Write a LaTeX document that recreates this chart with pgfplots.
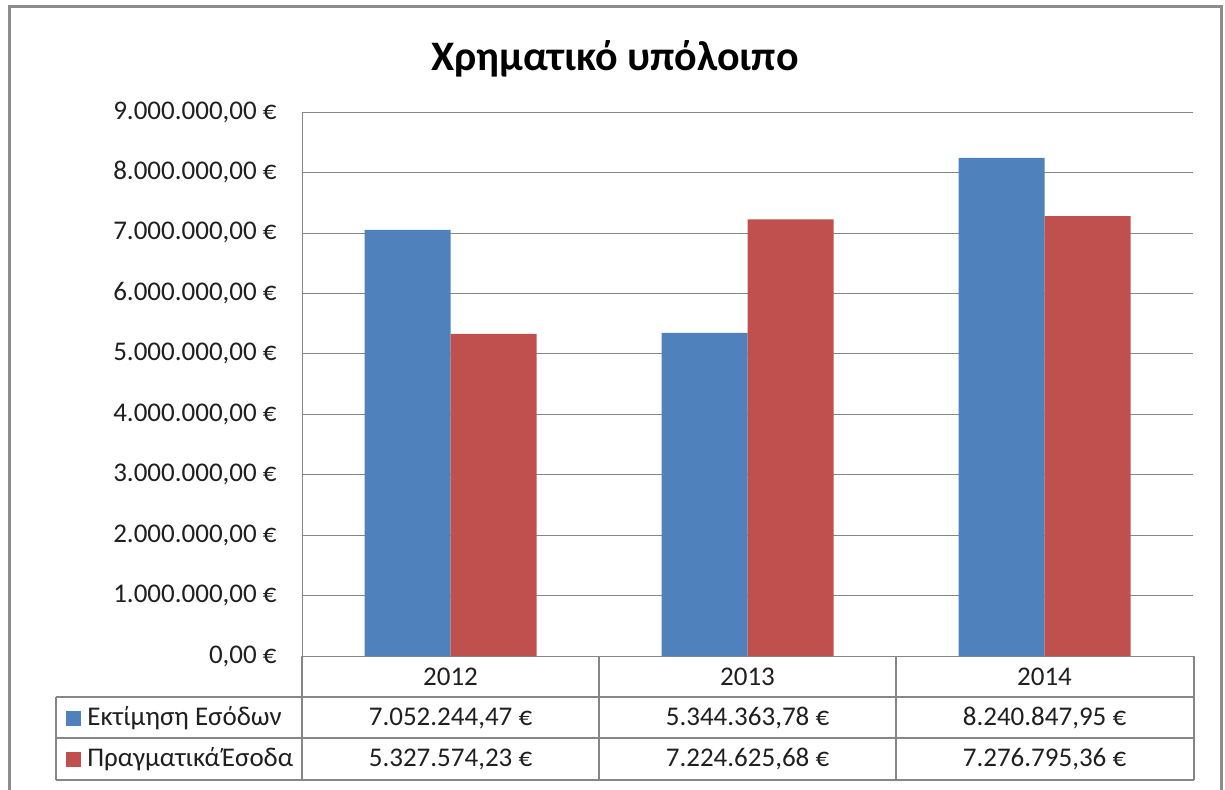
\documentclass[border=0pt]{standalone}
\usepackage{fontspec}
\setmainfont{Carlito}
\usepackage{pgfplots}
\pgfplotsset{compat=1.18}
\definecolor{barblue}{HTML}{4F81BD}
\definecolor{barred}{HTML}{C0504D}
\definecolor{gridgray}{RGB}{134,134,134}
\definecolor{framegray}{RGB}{140,140,140}
\newcommand{\tabfont}{\fontsize{13.5}{16}\selectfont}
\begin{document}
\begin{tikzpicture}
% pixel grid of the reference: 1 px = 0.5pt, y downwards
\begin{scope}[x=0.5pt,y=-0.5pt]
\useasboundingbox (0,0) rectangle (1225,789);
\draw[framegray, line width=1.5pt] (9,800) -- (9,6) -- (1221,6) -- (1221,800);
\node[anchor=base, font=\fontsize{21}{25}\selectfont\bfseries] at (615,70) {Χρηματικό υπόλοιπο};
\end{scope}

\begin{axis}[
  at={(151pt,-328pt)}, anchor=south west,
  scale only axis, width=445.5pt, height=272pt,
  xmin=-0.5, xmax=2.5, ymin=0, ymax=9e6,
  ybar=0pt, bar width=43pt,
  axis x line*=bottom, axis y line*=left,
  axis line style={gridgray},
  ymajorgrids, grid style={gridgray},
  major tick length=0pt,
  scaled y ticks=false,
  ytick={0,1000000,2000000,3000000,4000000,5000000,6000000,7000000,8000000,9000000},
  yticklabels={{0,00 €},{1.000.000,00 €},{2.000.000,00 €},{3.000.000,00 €},{4.000.000,00 €},{5.000.000,00 €},{6.000.000,00 €},{7.000.000,00 €},{8.000.000,00 €},{9.000.000,00 €}},
  xtick={0,1,2},
  xticklabels={2012,2013,2014},
  tick label style={font=\tabfont, inner sep=0pt, text=black!88},
  yticklabel style={anchor=east, xshift=-12.5pt},
  xticklabel style={anchor=base, yshift=-14.5pt},
]
\addplot[fill=barblue, draw=none] coordinates {(0,7052244.47) (1,5344363.78) (2,8240847.95)};
\addplot[fill=barred, draw=none] coordinates {(0,5327574.23) (1,7224625.68) (2,7276795.36)};
\end{axis}

\begin{scope}[x=0.5pt,y=-0.5pt, every node/.style={font=\tabfont, inner sep=0pt, text=black!88}]
% data table
\draw[gridgray, line width=0.6pt]
  (56,697) -- (1194,697)
  (56,738) -- (1194,738)
  (56,780) -- (1194,780)
  (56,697) -- (56,780)
  (302,656) -- (302,780)
  (599,656) -- (599,780)
  (896,656) -- (896,780)
  (1194,656) -- (1194,780);
\fill[barblue] (66,711) rectangle (81,726);
\fill[barred] (66,752) rectangle (81,767);
\node[anchor=base west] at (87,725) {Εκτίμηση Εσόδων};
\node[anchor=base west] at (87,766) {Πραγματικά\hspace{0.08em}Έσοδα};
\node[anchor=base] at (450.5,725) {7.052.244,47 €};
\node[anchor=base] at (747.5,725) {5.344.363,78 €};
\node[anchor=base] at (1044.5,725) {8.240.847,95 €};
\node[anchor=base] at (450.5,766) {5.327.574,23 €};
\node[anchor=base] at (747.5,766) {7.224.625,68 €};
\node[anchor=base] at (1044.5,766) {7.276.795,36 €};
\end{scope}
\end{tikzpicture}
\end{document}
